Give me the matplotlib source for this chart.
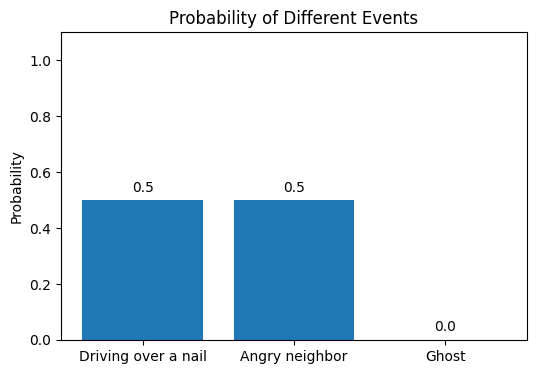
import matplotlib.pyplot as plt

events = ['Driving over a nail', 'Angry neighbor', 'Ghost']
probabilities = [0.5, 0.5, 0.0]

fig, ax = plt.subplots(figsize=(5.36, 3.74), dpi=100)
fig.subplots_adjust(left=0.114, right=0.983, top=0.914, bottom=0.091)

bars = ax.bar(events, probabilities, color='#1f77b4')
# 在每个柱子上方标注数值
for bar, p in zip(bars, probabilities):
    ax.annotate(f"{p}", (bar.get_x() + bar.get_width() / 2, p),
                textcoords="offset points", xytext=(0, 4), ha='center', va='bottom')

ax.set_ylim(0, 1.1)
ax.set_ylabel('Probability')
ax.set_title('Probability of Different Events')

plt.savefig('out.png')
